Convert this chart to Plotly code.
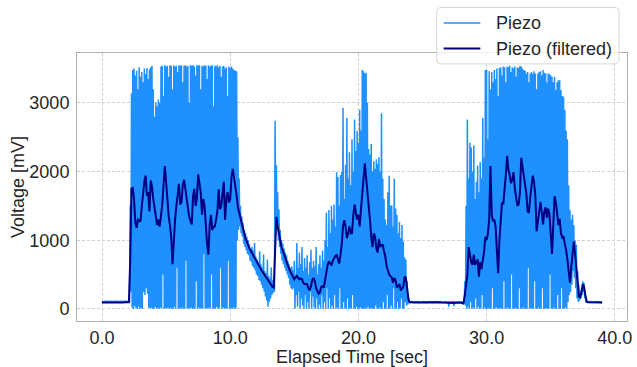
import numpy as np
import plotly.graph_objects as go

# ---------------- data ----------------
# Raw piezo signal: local maxima sampled every 0.1 s starting at t=0.0 s
raw_peaks = [
    110, 115, 112, 118, 113, 116, 111, 117, 114, 112,
    116, 113, 118, 112, 115, 117, 113, 116, 114, 118,
    112, 118, 1500, 3140, 3480, 3500, 3400, 3470, 3200, 3520,
    3380, 3450, 3300, 3500, 3420, 3510, 3350, 3490, 3520, 3540,
    3200, 2800, 3010, 2950, 3050, 3000, 3530, 3540, 3100, 3550,
    3530, 3540, 3380, 3550, 3540, 3200, 3550, 3530, 3540, 3450,
    3550, 3540, 3550, 3300, 3540, 3550, 3530, 3540, 3000, 3550,
    3540, 3550, 3530, 3400, 3550, 3540, 3550, 3200, 3540, 3530,
    3550, 3540, 3350, 3550, 3530, 3540, 3550, 2950, 3540, 3530,
    3550, 3520, 3540, 3380, 3530, 3540, 3500, 3520, 3100, 3530,
    3510, 3530, 3500, 3480, 3470, 3460, 2500, 1900, 1500, 1350,
    1250, 1150, 1100, 1050, 1000, 940, 880, 900, 850, 960,
    760, 720, 680, 840, 650, 600, 790, 550, 520, 720,
    480, 450, 600, 420, 380, 2740, 2090, 1700, 1450, 1150,
    1000, 950, 880, 820, 780, 700, 650, 600, 620, 560,
    700, 500, 960, 600, 820, 650, 900, 550, 740, 600,
    780, 500, 680, 860, 600, 700, 620, 900, 500, 650,
    780, 600, 850, 700, 1000, 1400, 900, 1440, 1100, 1500,
    1300, 1520, 1200, 1990, 1920, 1500, 1950, 2000, 2930, 1600,
    2100, 2780, 1900, 2280, 1800, 2470, 2000, 2760, 2300, 2590,
    2420, 2900, 2600, 3480, 3460, 3430, 3440, 3000, 2330, 2250,
    2400, 2000, 2150, 2040, 2180, 2110, 2210, 2000, 2850, 1900,
    1600, 1300, 1220, 1700, 1940, 1500, 1510, 1200, 1900, 1460,
    1370, 1100, 1270, 1030, 1220, 980, 750, 720, 400, 170,
    110, 105, 112, 108, 110, 106, 113, 109, 107, 111,
    108, 112, 106, 110, 109, 113, 107, 111, 108, 110,
    112, 107, 110, 108, 113, 109, 106, 111, 110, 108,
    108, 110, 106, 109, 112, 107, 110, 108, 111, 109,
    107, 110, 108, 400, 1500, 2760, 1900, 2420, 2350, 2000,
    2380, 1600, 1850, 2090, 1700, 2140, 1900, 2780, 2200, 3480,
    3480, 2470, 3460, 3200, 3450, 3300, 3480, 3350, 3500, 3100,
    3510, 3520, 3400, 3530, 3520, 3300, 3530, 3520, 3540, 3450,
    3520, 3500, 3530, 3380, 3520, 3510, 3540, 3530, 3500, 3480,
    3470, 3430, 3450, 3300, 3430, 3450, 3420, 3460, 3430, 3200,
    3430, 3450, 3460, 3400, 3480, 3440, 3430, 3300, 3430, 3420,
    3400, 3380, 3300, 3380, 3190, 3300, 3330, 3330, 3190, 3100,
    3090, 2900, 2600, 2470, 1800, 1440, 1300, 1370, 1220, 1000,
    936, 552, 350, 264, 300, 400, 380, 220, 120, 110,
    108, 112, 110, 107, 111, 109, 112, 108, 110, 107,
    105,
]

# Raw piezo signal: local minima, sampled every 0.1 s starting at t=0.05 s
raw_troughs = [
    90, 88, 91, 89, 92, 90, 88, 91, 90, 89,
    91, 89, 90, 88, 92, 90, 89, 91, 90, 88,
    90, 92, 250, 20, 0, 40, 10, 0, 30, 0,
    10, 0, 250, 200, 300, 220, 20, 0, 15, 0,
    0, 30, 0, 10, 0, 20, 0, 500, 0, 10,
    0, 20, 0, 10, 0, 0, 30, 0, 600, 0,
    10, 0, 20, 0, 0, 700, 0, 10, 0, 20,
    0, 10, 0, 400, 0, 20, 0, 10, 0, 800,
    0, 10, 0, 20, 0, 500, 0, 10, 0, 30,
    0, 10, 600, 0, 20, 0, 10, 0, 700, 0,
    10, 0, 20, 0, 10, 1000, 1150, 1200, 1100, 1050,
    950, 900, 850, 800, 780, 700, 680, 620, 600, 560,
    500, 480, 420, 400, 350, 300, 250, 180, 120, 30,
    100, 150, 200, 230, 250, 1300, 1200, 1000, 900, 800,
    700, 650, 600, 550, 500, 450, 350, 300, 280, 300,
    0, 200, 30, 250, 0, 150, 50, 0, 200, 0,
    100, 0, 250, 0, 180, 20, 0, 150, 0, 60,
    0, 200, 0, 100, 0, 300, 0, 150, 0, 50,
    0, 200, 0, 20, 0, 300, 0, 0, 100, 0,
    0, 150, 0, 10, 0, 200, 0, 0, 30, 0,
    0, 20, 0, 0, 10, 0, 0, 30, 0, 0,
    10, 0, 0, 50, 0, 0, 20, 0, 0, 100,
    0, 0, 200, 0, 0, 50, 0, 300, 0, 0,
    100, 0, 0, 150, 0, 0, 100, 50, 60, 80,
    85, 88, 90, 87, 89, 90, 88, 86, 89, 90,
    88, 90, 87, 89, 91, 88, 90, 89, 87, 90,
    89, 88, 90, 91, 87, 89, 88, 90, 89, 88,
    30, 85, 88, 87, 40, 86, 88, 85, 87, 86,
    84, 60, 80, 50, 0, 30, 0, 100, 0, 20,
    0, 150, 0, 30, 0, 0, 200, 0, 20, 0,
    0, 10, 0, 0, 300, 0, 0, 20, 0, 0,
    10, 0, 0, 400, 0, 0, 20, 0, 0, 500,
    0, 0, 10, 0, 0, 300, 0, 0, 20, 0,
    0, 0, 600, 0, 10, 0, 0, 400, 0, 0,
    20, 0, 0, 300, 0, 0, 10, 0, 0, 500,
    0, 0, 20, 0, 0, 200, 0, 0, 300, 0,
    0, 20, 0, 100, 200, 250, 350, 550, 450, 300,
    150, 100, 120, 150, 200, 250, 150, 90, 88, 90,
    89, 90, 88, 91, 89, 90, 88, 90, 89, 90,
]

# Filtered signal sampled every 0.1 s from t=0.0 s
filtered = [
    92, 93, 91, 94, 92, 95, 93, 92, 94, 93,
    92, 94, 93, 92, 95, 93, 91, 93, 94, 92,
    92, 95, 700, 1750, 1760, 1600, 1260, 1180, 1300, 1290,
    1270, 1480, 1700, 1850, 1940, 1650, 1700, 1420, 1870, 1780,
    1600, 1450, 1330, 1220, 1300, 1200, 1350, 1520, 1800, 2080,
    1850, 1540, 1350, 1220, 1050, 650, 1050, 1300, 1500, 1700,
    1820, 1520, 1560, 1800, 1880, 1750, 1620, 1450, 1340, 1280,
    1230, 1640, 1750, 1500, 1600, 1960, 1850, 1700, 1370, 1600,
    1500, 1200, 940, 790, 1220, 1370, 1150, 1200, 1200, 1300,
    1420, 1740, 1450, 1500, 1700, 1850, 1300, 1600, 1700, 1550,
    1600, 1920, 2040, 1920, 1780, 1650, 1480, 1400, 1300, 1230,
    1150, 1080, 1020, 980, 920, 880, 850, 815, 780, 745,
    710, 670, 625, 600, 575, 545, 515, 490, 460, 430,
    405, 375, 350, 320, 310, 1000, 1340, 1200, 1080, 1010,
    900, 850, 790, 740, 680, 620, 580, 540, 500, 470,
    432, 460, 480, 450, 430, 440, 430, 380, 360, 365,
    360, 300, 270, 330, 420, 450, 400, 300, 250, 220,
    240, 320, 330, 310, 420, 540, 640, 690, 650, 630,
    700, 744, 770, 790, 700, 660, 780, 940, 1200, 1290,
    1200, 1030, 1100, 1200, 1100, 1100, 1360, 1520, 1400, 1300,
    1370, 1200, 1450, 1750, 1900, 2120, 1940, 1700, 1560, 1300,
    1050, 900, 1100, 1050, 880, 820, 1020, 900, 930, 930,
    840, 760, 620, 540, 500, 475, 456, 380, 450, 420,
    312, 330, 360, 270, 290, 320, 470, 450, 300, 140,
    98, 92, 93, 91, 92, 94, 92, 93, 92, 91,
    92, 93, 94, 92, 91, 93, 95, 93, 92, 94,
    93, 92, 94, 95, 93, 92, 93, 94, 92, 93,
    90, 92, 88, 85, 80, 86, 90, 92, 91, 90,
    88, 85, 80, 200, 330, 500, 900, 780, 680, 640,
    790, 640, 680, 720, 470, 680, 580, 700, 830, 1050,
    1000, 1100, 1300, 2080, 1370, 1280, 1300, 1200, 900, 520,
    1000, 1380, 1550, 1520, 1700, 1960, 2230, 2030, 1950, 1830,
    1880, 1990, 1760, 1640, 1500, 1520, 1700, 2200, 2080, 1900,
    1840, 1680, 1420, 1400, 1620, 1800, 1940, 1850, 1650, 1130,
    1300, 1450, 1560, 1410, 1230, 1420, 1480, 1330, 1460, 1380,
    1100, 800, 1220, 1640, 1550, 1400, 1220, 1310, 1100, 1040,
    1060, 940, 860, 720, 520, 380, 600, 860, 980, 800,
    600, 300, 180, 170, 240, 360, 320, 200, 110, 96,
    95, 93, 92, 94, 92, 93, 91, 92, 93, 92,
    92,
]

SAMPLE_STEP = 0.1  # seconds between stored samples
x_ticks = [0, 10, 20, 30, 40]
x_tick_labels = ["0.0", "10.0", "20.0", "30.0", "40.0"]
y_ticks = [0, 1000, 2000, 3000]
y_tick_labels = ["0", "1000", "2000", "3000"]
series_names = ["Piezo", "Piezo (filtered)"]
series_colors = ["#1E90FF", "#000080"]
series_widths = [1.5, 2.0]

# ---------------- build series ----------------
t_peaks = np.arange(len(raw_peaks)) * SAMPLE_STEP
t_troughs = np.arange(len(raw_troughs)) * SAMPLE_STEP + SAMPLE_STEP / 2
raw_t, raw_v = [], []
for i in range(len(raw_peaks)):
    raw_t.append(t_peaks[i]); raw_v.append(raw_peaks[i])
    if i < len(raw_troughs):
        raw_t.append(t_troughs[i]); raw_v.append(raw_troughs[i])
t_filt = np.arange(len(filtered)) * SAMPLE_STEP

FONT = "Liberation Sans, Arial, sans-serif"
TXT = "#262626"
FS = 18

fig = go.Figure()
fig.add_trace(go.Scatter(x=raw_t, y=raw_v, mode="lines", name=series_names[0],
                         line=dict(color=series_colors[0], width=series_widths[0])))
fig.add_trace(go.Scatter(x=t_filt, y=filtered, mode="lines", name=series_names[1],
                         line=dict(color=series_colors[1], width=series_widths[1])))

# ---------------- layout ----------------
W, H = 637, 367
ML, MR, MT, MB = 77, 5, 53, 43
PW, PH = W - ML - MR, H - MT - MB


def px_x(p):  # pixel -> paper x
    return (p - ML) / PW


def px_y(p):  # pixel (from top) -> paper y
    return (H - MB - p) / PH


# legend (matplotlib-style frame with rounded corners, semi-transparent)
bx0, bx1, by0, by1, r = 440, 624, 7, 64, 4
x0, x1 = px_x(bx0), px_x(bx1)
y0, y1 = px_y(by1), px_y(by0)
rx, ry = r / PW, r / PH
legend_path = (
    f"M {x0+rx},{y0} L {x1-rx},{y0} Q {x1},{y0} {x1},{y0+ry} "
    f"L {x1},{y1-ry} Q {x1},{y1} {x1-rx},{y1} "
    f"L {x0+rx},{y1} Q {x0},{y1} {x0},{y1-ry} "
    f"L {x0},{y0+ry} Q {x0},{y0} {x0+rx},{y0} Z"
)
shapes = [dict(type="path", xref="paper", yref="paper", path=legend_path,
               fillcolor="rgba(255,255,255,0.8)",
               line=dict(color="rgba(210,210,210,0.9)", width=1), layer="above")]
annotations = []
row_y = [22.7, 48.5]
for name, col, wd, ry_px in zip(series_names, series_colors, series_widths, row_y):
    shapes.append(dict(type="line", xref="paper", yref="paper",
                       x0=px_x(447), x1=px_x(484), y0=px_y(ry_px), y1=px_y(ry_px),
                       line=dict(color=col, width=wd), layer="above"))
    annotations.append(dict(text=name, xref="paper", yref="paper",
                            x=px_x(498), y=px_y(ry_px), xanchor="left", yanchor="middle",
                            showarrow=False, font=dict(family=FONT, size=FS, color=TXT)))

fig.update_layout(
    width=W, height=H,
    margin=dict(l=ML, r=MR, t=MT, b=MB),
    paper_bgcolor="white", plot_bgcolor="white",
    font=dict(family=FONT, size=FS, color=TXT),
    showlegend=False,
    shapes=shapes, annotations=annotations,
)
fig.update_xaxes(
    range=[-1.95, 40.95], tickvals=x_ticks, ticktext=x_tick_labels,
    showgrid=True, gridcolor="#d0d0d0", griddash="3px,2px", gridwidth=1,
    zeroline=False, showline=True, linecolor="#b0b0b0", linewidth=1, mirror=True,
    ticks="", ticklabelstandoff=0, ticklabeloverflow="allow",
    title=dict(text="Elapsed Time [sec]", font=dict(family=FONT, size=FS, color=TXT), standoff=2),
)
fig.update_yaxes(
    range=[-177.5, 3727.5], tickvals=y_ticks, ticktext=y_tick_labels,
    showgrid=True, gridcolor="#d0d0d0", griddash="3px,2px", gridwidth=1,
    zeroline=False, showline=True, linecolor="#b0b0b0", linewidth=1, mirror=True,
    ticks="", ticklabelstandoff=3, ticklabeloverflow="allow",
    title=dict(text="Voltage [mV]", font=dict(family=FONT, size=FS, color=TXT), standoff=0),
)

fig.write_html("out.html")
